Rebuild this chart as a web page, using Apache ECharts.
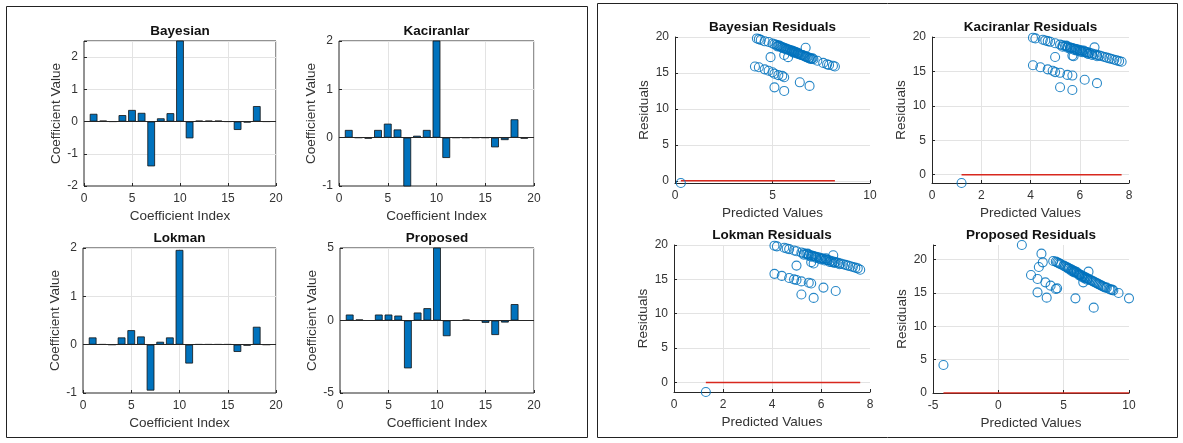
<!DOCTYPE html>
<html>
<head>
<meta charset="utf-8">
<script src="https://cdn.jsdelivr.net/npm/echarts@6/dist/echarts.min.js"></script>
<style>
html,body{margin:0;padding:0;background:#fff;}
#chart{width:1183px;height:443px;}
</style>
</head>
<body>
<div id="chart"></div>
<script>
// ---------- DATA ----------
const coefIndex = [1,2,3,4,5,6,7,8,9,10,11,12,13,14,15,16,17,18,19];
const bayesianCoef   = [0.24,0.03,0,0.20,0.36,0.27,-1.39,0.10,0.26,2.8,-0.52,0.03,0.03,0.03,0,-0.26,-0.03,0.48,0];
const kaciranlarCoef = [0.16,0,-0.02,0.16,0.29,0.17,-1.1,0.04,0.16,2.3,-0.42,0,0,0,0,-0.20,-0.05,0.38,-0.02];
const lokmanCoef     = [0.15,0.01,0,0.15,0.30,0.17,-0.95,0.06,0.15,1.96,-0.39,0.01,0.01,0.01,0.01,-0.15,-0.02,0.37,0];
const proposedCoef   = [0.41,0.07,0,0.41,0.41,0.34,-3.3,0.55,0.85,5.5,-1.08,0,0.06,0,-0.16,-1.0,-0.14,1.13,0];

const bayesianResidualPoints = [
 [4.2,19.8],[4.3,19.7],[4.4,19.6],[4.6,19.4],[4.8,19.3],[5.0,19.1],[5.1,19.0],[5.2,18.9],[5.3,18.8],[5.4,18.7],
 [5.5,18.6],[5.6,18.5],[5.7,18.4],[5.8,18.3],[5.85,18.2],[5.9,18.2],[6.0,18.1],[6.05,18.0],[6.1,18.0],[6.15,17.9],
 [6.2,17.9],[6.3,17.8],[6.35,17.7],[6.4,17.6],[6.5,17.5],[6.55,17.5],[6.6,17.4],[6.7,17.3],[6.8,17.2],[6.9,17.1],
 [7.0,17.0],[7.1,16.9],[7.3,16.7],[7.6,16.4],[7.8,16.2],[7.9,16.1],[8.1,16.0],[8.2,15.9],
 [5.25,18.7],[5.45,18.55],[5.65,18.35],[5.95,18.05],[6.25,17.75],[6.45,17.5],[6.65,17.3],[6.75,17.2],[6.85,17.05],
 [6.95,16.95],[7.05,17.05],[5.35,18.8],[5.55,18.45],[6.0,17.95],[6.3,17.65],[5.75,18.25],[6.1,17.8],
 [6.7,18.5],[4.9,17.2],[5.6,17.5],[5.8,17.2],
 [4.1,15.9],[4.3,15.8],[4.6,15.5],[4.8,15.3],[5.0,15.1],[5.1,14.9],[5.3,14.7],[5.5,14.6],[5.6,14.4],
 [5.1,13.0],[5.6,12.5],[6.4,13.7],[6.9,13.2],
 [0.3,-0.3]
];
const kaciranlarResidualPoints = [
 [4.1,19.9],[4.2,19.8],[4.5,19.6],[4.6,19.5],[4.7,19.4],[4.8,19.3],[5.0,19.1],[5.2,18.9],[5.3,18.8],[5.4,18.7],
 [5.5,18.6],[5.6,18.5],[5.65,18.4],[5.7,18.4],[5.75,18.3],[5.8,18.3],[5.85,18.2],[5.9,18.2],[6.0,18.1],[6.05,18.0],
 [6.1,18.0],[6.2,17.9],[6.25,17.8],[6.3,17.8],[6.4,17.7],[6.5,17.6],[6.6,17.5],[6.7,17.4],[6.8,17.3],[6.9,17.2],
 [7.0,17.1],[7.2,16.9],[7.4,16.7],[7.5,16.6],[7.6,16.5],[7.7,16.4],
 [5.3,18.6],[5.5,18.45],[5.6,18.3],[5.8,18.1],[5.9,18.0],[6.0,17.9],[6.1,17.8],[6.3,17.6],[6.5,17.4],[6.7,17.2],
 [5.45,18.75],[6.15,18.05],[7.1,17.0],[7.3,16.8],[6.35,17.55],
 [6.6,18.5],[5.0,17.1],[5.7,17.3],[5.75,17.2],
 [4.1,15.9],[4.4,15.6],[4.7,15.3],[4.9,15.1],[5.0,14.9],[5.2,14.8],[5.5,14.5],[5.7,14.4],
 [5.2,12.7],[5.7,12.3],[6.2,13.8],[6.7,13.3],
 [1.2,-1.2]
];
const lokmanResidualPoints = [
 [4.1,19.9],[4.2,19.8],[4.5,19.6],[4.6,19.5],[4.7,19.4],[4.9,19.2],[5.0,19.1],[5.2,18.9],[5.3,18.8],[5.4,18.7],
 [5.5,18.6],[5.6,18.5],[5.65,18.4],[5.7,18.4],[5.75,18.3],[5.8,18.3],[5.9,18.2],[6.0,18.1],[6.05,18.0],[6.1,18.0],
 [6.2,17.9],[6.25,17.8],[6.3,17.8],[6.4,17.7],[6.5,17.6],[6.6,17.5],[6.7,17.4],[6.8,17.3],[6.9,17.2],[7.0,17.1],
 [7.1,17.0],[7.2,16.9],[7.3,16.8],[7.4,16.7],[7.5,16.6],[7.6,16.4],
 [5.3,18.6],[5.5,18.45],[5.6,18.3],[5.8,18.1],[5.95,18.0],[6.0,17.9],[6.15,17.75],[6.35,17.55],[6.55,17.4],
 [5.45,18.75],[6.2,18.05],[6.75,17.2],[6.45,17.5],
 [6.5,18.5],[5.0,17.0],[5.6,17.5],[5.7,17.3],
 [4.1,15.8],[4.4,15.5],[4.7,15.2],[4.9,15.0],[5.0,14.9],[5.2,14.7],[5.5,14.5],[5.6,14.4],
 [5.2,12.8],[5.7,12.3],[6.1,13.8],[6.6,13.3],
 [1.3,-1.4]
];
const proposedResidualPoints = [
 [4.2,19.8],[4.4,19.7],[4.5,19.6],[4.6,19.5],[4.8,19.3],[5.0,19.1],[5.1,19.0],[5.3,18.8],[5.4,18.7],[5.5,18.6],
 [5.6,18.5],[5.7,18.4],[5.8,18.3],[5.9,18.2],[6.0,18.0],[6.1,17.9],[6.2,17.8],[6.3,17.7],[6.4,17.6],[6.5,17.5],
 [6.6,17.4],[6.7,17.3],[6.8,17.2],[6.9,17.1],[7.0,17.0],[7.1,16.9],[7.3,16.7],[7.5,16.5],[7.7,16.3],[7.9,16.1],
 [8.1,15.9],[8.3,15.8],[8.5,15.6],[8.7,15.5],[8.8,15.4],[9.2,15.0],[10.0,14.2],
 [5.2,18.9],[5.6,18.3],[5.8,18.1],[6.0,18.15],[6.2,17.65],[6.4,17.4],[6.6,17.2],[6.8,17.0],[7.2,16.8],[7.4,16.6],
 [7.6,16.4],[7.8,16.2],[8.0,16.0],[8.2,15.8],[8.6,15.5],[4.7,19.4],[5.35,18.65],[5.75,18.2],[6.15,17.85],
 [1.8,22.2],[3.3,20.9],[3.4,19.6],[3.1,18.9],[2.5,17.7],[3.0,17.1],[3.6,16.6],[4.0,16.1],[4.5,15.7],[4.4,15.6],
 [3.0,15.1],[3.7,14.3],[5.9,14.2],[7.3,12.8],[6.9,18.2],[6.5,16.6],
 [-4.2,4.2]
];

// ---------- STYLE / LAYOUT ----------
const FONT = 'Liberation Sans, Arial, Helvetica, sans-serif';
const TXT = '#333333';
const GRIDC = '#e3e3e3';
const BLUE = '#0072BD';

const panels = [
 {title:'Bayesian',  g:{left:84, top:41, width:192, height:145}, x:[0,20,5], y:[-2,2.5,1], xname:'Coefficient Index', yname:'Coefficient Value', data:bayesianCoef, type:'bar'},
 {title:'Kaciranlar',g:{left:339,top:41, width:195, height:145}, x:[0,20,5], y:[-1,2,1],   xname:'Coefficient Index', yname:'Coefficient Value', data:kaciranlarCoef, type:'bar'},
 {title:'Lokman',    g:{left:83, top:248,width:193, height:145}, x:[0,20,5], y:[-1,2,1],   xname:'Coefficient Index', yname:'Coefficient Value', data:lokmanCoef, type:'bar'},
 {title:'Proposed',  g:{left:340,top:248,width:194, height:145}, x:[0,20,5], y:[-5,5,5],   xname:'Coefficient Index', yname:'Coefficient Value', data:proposedCoef, type:'bar'},
 {title:'Bayesian Residuals',  g:{left:675,top:37, width:195,height:146}, x:[0,10,5],  y:[-0.3,20], xname:'Predicted Values', yname:'Residuals', data:bayesianResidualPoints, type:'res'},
 {title:'Kaciranlar Residuals',g:{left:932,top:37, width:197,height:146}, x:[0,8,2],   y:[-1.2,20], xname:'Predicted Values', yname:'Residuals', data:kaciranlarResidualPoints, type:'res'},
 {title:'Lokman Residuals',    g:{left:674,top:245,width:196,height:147}, x:[0,8,2],   y:[-1.4,20], xname:'Predicted Values', yname:'Residuals', data:lokmanResidualPoints, type:'res'},
 {title:'Proposed Residuals',  g:{left:933,top:245,width:196,height:148}, x:[-5,10,5], y:[0,22.2],  xname:'Predicted Values', yname:'Residuals', data:proposedResidualPoints, type:'res'}
];

function multFmt(step){
  return function(v){
    const r = v/step;
    return Math.abs(r-Math.round(r))<1e-6 ? String(Math.round(v*1000)/1000) : '';
  };
}

const grids=[], xAxes=[], yAxes=[], series=[], graphics=[];

panels.forEach((p,i)=>{
  const isBar = p.type==='bar';
  grids.push(Object.assign({
    show: isBar, borderColor:'#262626', borderWidth:1, backgroundColor:'transparent', containLabel:false
  }, p.g));
  xAxes.push({
    type:'value', gridIndex:i, min:p.x[0], max:p.x[1], interval:p.x[2],
    name:p.xname, nameLocation:'middle', nameGap:23,
    nameTextStyle:{fontFamily:FONT,fontSize:13.5,color:TXT},
    axisLine:{show:!isBar, onZero:false, lineStyle:{color:'#262626',width:1}},
    axisTick:{show:true, inside:true, length:3, lineStyle:{color:'#262626'}},
    axisLabel:{fontFamily:FONT,fontSize:12,color:TXT,margin:7, formatter:multFmt(p.x[2])},
    splitLine:{show:true, showMinLine:false, showMaxLine:isBar, lineStyle:{color:GRIDC,width:1}}
  });
  const yA = {
    type:'value', gridIndex:i, min:p.y[0], max:p.y[1],
    name:p.yname, nameLocation:'middle', nameGap: isBar?20:22,
    nameTextStyle:{fontFamily:FONT,fontSize:13.5,color:TXT},
    axisLine:{show:!isBar, onZero:false, lineStyle:{color:'#262626',width:1}},
    axisTick:{show:true, inside:true, length:3, lineStyle:{color:'#262626'}},
    axisLabel:{fontFamily:FONT,fontSize:12,color:TXT,margin:6},
    splitLine:{show:true, showMinLine:false, lineStyle:{color:GRIDC,width:1}}
  };
  if (isBar){
    yA.interval = p.y[2];
    yA.axisLabel.formatter = multFmt(p.y[2]);
  } else {
    yA.splitNumber = 4;
    yA.axisLabel.formatter = multFmt(5);
    yA.splitLine.showMaxLine = p.y[1]===20;
  }
  yAxes.push(yA);

  if (isBar){
    series.push({
      type:'bar', xAxisIndex:i, yAxisIndex:i, barWidth:'80%', clip:true,
      data: coefIndex.map((c,k)=>[c, p.data[k]]),
      itemStyle:{color:BLUE, borderColor:'#111', borderWidth:0.8},
      silent:true, animation:false,
      markLine:{silent:true, symbol:'none', label:{show:false},
        lineStyle:{color:'#262626', width:1, type:'solid'}, data:[{yAxis:0}], animation:false}
    });
  } else {
    const xs = p.data.map(d=>d[0]);
    const lo = Math.min.apply(null,xs), hi = Math.max.apply(null,xs);
    series.push({
      type:'line', xAxisIndex:i, yAxisIndex:i, data:[[lo,0],[hi,0]],
      showSymbol:false, symbol:'none', lineStyle:{color:'#d8281e', width:1.5}, silent:true, animation:false, z:1
    });
    series.push({
      type:'scatter', xAxisIndex:i, yAxisIndex:i, data:p.data, clip:false,
      symbol:'circle', symbolSize:9,
      itemStyle:{color:'rgba(0,0,0,0)', borderColor:BLUE, borderWidth:1.1, opacity:0.85},
      silent:true, animation:false, z:3
    });
  }
  const g = p.g;
  graphics.push({
    type:'text', x:g.left+g.width/2, y:g.top-10,
    style:{text:p.title, fontFamily:FONT, fontSize:13.5, fontWeight:'bold', fill:'#111', textAlign:'center', textVerticalAlign:'middle'},
    silent:true
  });
});

graphics.push({type:'rect', shape:{x:6.5,y:6.5,width:581,height:431}, style:{fill:'none',stroke:'#222',lineWidth:1}, silent:true});
graphics.push({type:'rect', shape:{x:597.5,y:3.5,width:580,height:434}, style:{fill:'none',stroke:'#222',lineWidth:1}, silent:true});

const chart = echarts.init(document.getElementById('chart'), null, {renderer:'canvas'});
chart.setOption({
  animation:false,
  backgroundColor:'#ffffff',
  grid:grids, xAxis:xAxes, yAxis:yAxes, series:series,
  graphic:{elements:graphics}
});
</script>
</body>
</html>
